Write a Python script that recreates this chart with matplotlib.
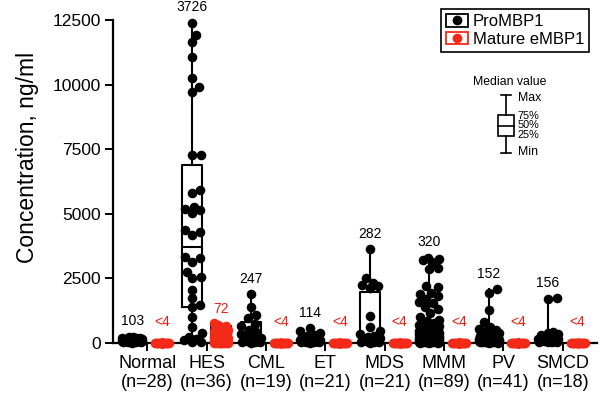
import numpy as np
import matplotlib
matplotlib.use("Agg")
import matplotlib.pyplot as plt
from matplotlib.patches import Patch, Rectangle
from matplotlib.lines import Line2D
from matplotlib.legend_handler import HandlerTuple

plt.rcParams['font.family'] = ['Liberation Sans', 'DejaVu Sans']

# groups
groups = ['Normal', 'HES', 'CML', 'ET', 'MDS', 'MMM', 'PV', 'SMCD']
n_counts = [28, 36, 19, 21, 21, 89, 41, 18]

# ProMBP1 individual values (ng/ml)
pro_normal = [250, 230, 210, 190, 175, 160, 150, 140, 130, 120, 115, 110, 105, 104,
              102, 100, 95, 90, 85, 80, 75, 70, 60, 50, 40, 30, 20, 10]
pro_hes = [12400, 11920, 11637, 11080, 10244, 9895, 9725, 7276, 7276, 5921, 5793,
           5276, 5200, 5147, 5018, 4373, 4300, 4180, 3340, 3278, 3146, 2760, 2566,
           2504, 2051, 1728, 1471, 1405, 1018, 631, 375, 250, 150, 100, 50, 20]
pro_cml = [1884, 1405, 1084, 955, 750, 650, 520, 420, 330, 247, 200, 160, 120, 90,
           70, 50, 30, 20, 10]
pro_et = [568, 450, 375, 300, 260, 230, 200, 180, 150, 130, 114, 100, 90, 80, 70,
          60, 50, 40, 30, 20, 10]
pro_mds = [3625, 2528, 2320, 2250, 2200, 2120, 1045, 600, 450, 350, 282, 220, 180,
           140, 110, 90, 70, 50, 30, 20, 5]
pro_mmm = [3300, 3260, 3200, 3150, 2900, 2850, 2200, 2150, 1950, 1900, 1800, 1700,
           1600, 1550, 1400, 1300, 1150, 1000, 900, 850, 780, 700,
           640, 620, 600, 580, 560, 540, 520, 500, 480, 460, 450, 440, 420, 410,
           400, 390, 380, 370, 360, 350, 340, 330, 320,
           310, 300, 290, 280, 270, 260, 250, 240, 230, 220, 210, 200, 190, 180,
           170, 160, 150, 145, 140, 135, 130, 125, 120, 110, 100, 95, 90, 85, 80,
           75, 70, 65, 60, 55, 50, 45, 40, 35, 30, 25, 20, 15, 10, 5]
pro_pv = [2078, 1923, 1277, 824, 600, 550, 500, 480, 450, 400, 380, 350, 320, 300,
          280, 250, 230, 210, 190, 170, 152, 140, 130, 120, 110, 100, 95, 90, 85,
          80, 70, 60, 55, 50, 45, 40, 35, 30, 20, 15, 10]
pro_smcd = [1740, 1720, 437, 400, 350, 300, 250, 200, 160, 152, 130, 110, 90, 70,
            50, 40, 30, 20]
pro_values = [pro_normal, pro_hes, pro_cml, pro_et, pro_mds, pro_mmm, pro_pv, pro_smcd]

# ProMBP1 box statistics
pro_min = [10, 0, 10, 10, 5, 0, 5, 20]
pro_q1 = [70, 1381, 60, 40, 50, 130, 55, 50]
pro_med = [103, 3726, 247, 114, 282, 320, 152, 156]
pro_q3 = [150, 6890, 800, 250, 1985, 630, 420, 300]
pro_max = [250, 12400, 1884, 568, 3625, 3300, 2078, 1740]
pro_labels = ['103', '3726', '247', '114', '282', '320', '152', '156']

# Mature eMBP1: only HES above detection limit, others "<4" (plotted at 0)
mat_hes = [760, 690, 640, 600, 560, 520, 480, 450, 420, 390, 350, 300, 250, 200,
           150, 110, 90, 75, 69, 60, 50, 45, 40, 35, 30, 25, 20, 15, 12, 10, 8, 6,
           5, 4, 3, 2]
below_lod = 0.0
mat_min = [0, 2, 0, 0, 0, 0, 0, 0]
mat_q1 = [0, 15, 0, 0, 0, 0, 0, 0]
mat_med = [0, 72, 0, 0, 0, 0, 0, 0]
mat_q3 = [0, 650, 0, 0, 0, 0, 0, 0]
mat_max = [0, 760, 0, 0, 0, 0, 0, 0]
mat_labels = ['<4', '72', '<4', '<4', '<4', '<4', '<4', '<4']
mat_values = [mat_hes if g == 'HES' else np.full(n, below_lod)
              for g, n in zip(groups, n_counts)]

BLACK = '#000000'
RED = '#f42a18'
RED_TXT = '#e61e12'

W, H = 600, 396
fig = plt.figure(figsize=(W / 100, H / 100), dpi=100)
ax = fig.add_axes([113 / W, 1 - 343 / H, 484 / W, 323 / H])
xlim = (-0.575, 7.575)
ylim = (0, 12500)
ax.set_xlim(*xlim)
ax.set_ylim(*ylim)

px_x = 484 / (xlim[1] - xlim[0])
px_y = 323 / (ylim[1] - ylim[0])
dot_px = 9.6
dot_s = (dot_px * 0.72) ** 2
off = 0.25
box_w = 0.336


def swarm(vals, max_px, diam):
    ys = np.asarray(vals, dtype=float) * px_y
    order = np.argsort(ys, kind='stable')
    cands = [0.0]
    for k in range(1, int(max_px) + 1):
        cands += [float(k), float(-k)]
    placed = []
    res = np.zeros(len(ys))
    for i in order:
        best, best_d = 0.0, -1.0
        for c in cands:
            if placed:
                p = np.array(placed)
                dmin = np.min(np.hypot(p[:, 0] - c, p[:, 1] - ys[i]))
            else:
                dmin = np.inf
            if dmin >= diam:
                best = c
                break
            if dmin > best_d:
                best_d, best = dmin, c
        res[i] = best
        placed.append((best, ys[i]))
    return res / px_x


def stats(mins, q1s, meds, q3s, maxs):
    return [dict(whislo=a, q1=b, med=c, q3=d, whishi=e, fliers=[])
            for a, b, c, d, e in zip(mins, q1s, meds, q3s, maxs)]


xs = np.arange(len(groups))
lw = 1.5
common = dict(widths=box_w, showfliers=False, showcaps=False, manage_ticks=False,
              boxprops=dict(color=BLACK, lw=lw), whiskerprops=dict(color=BLACK, lw=lw),
              medianprops=dict(color=BLACK, lw=lw), zorder=2)
ax.bxp(stats(pro_min, pro_q1, pro_med, pro_q3, pro_max), positions=xs - off, **common)
ax.bxp(stats(mat_min, mat_q1, mat_med, mat_q3, mat_max), positions=xs + off, **common)

for i in range(len(groups)):
    v = pro_values[i]
    ax.scatter(i - off + swarm(v, 10, dot_px * 0.85), v, s=dot_s, color=BLACK,
               linewidths=0, zorder=3, clip_on=False)
    m = mat_values[i]
    ax.scatter(i + off + swarm(m, 7, dot_px * 0.85), m, s=dot_s, color=RED,
               linewidths=0, zorder=3, clip_on=False)
    ax.annotate(pro_labels[i], (i - off, pro_max[i]), xytext=(0, 11),
                textcoords='offset points', ha='center', va='center',
                fontsize=10, color=BLACK)
    ax.annotate(mat_labels[i], (i + off, mat_max[i]),
                xytext=(0, 15 if mat_labels[i] == '<4' else 10),
                textcoords='offset points', ha='center', va='center',
                fontsize=10, color=RED_TXT)

for s in ['top', 'right']:
    ax.spines[s].set_visible(False)
for s in ['left', 'bottom']:
    ax.spines[s].set_linewidth(1.6)
ax.set_yticks([0, 2500, 5000, 7500, 10000, 12500])
ax.set_xticks(xs)
ax.set_xticklabels([f'{g}\n(n={n})' for g, n in zip(groups, n_counts)],
                   linespacing=1.1)
ax.tick_params(axis='y', direction='out', length=5.5, width=1.4, pad=3.5,
               labelsize=12.5)
ax.tick_params(axis='x', direction='out', length=5.5, width=1.4, pad=3.5,
               labelsize=13)
ax.set_ylabel('Concentration, ng/ml', fontsize=16.5)
ax.yaxis.set_label_coords(-0.152, 0.574)

# legend
h_pro = (Patch(facecolor='white', edgecolor=BLACK, lw=1.3),
         Line2D([], [], marker='o', ls='', color=BLACK, markersize=6))
h_mat = (Patch(facecolor='white', edgecolor=RED, lw=1.3),
         Line2D([], [], marker='o', ls='', color=RED, markersize=6))
leg = ax.legend([h_pro, h_mat], ['ProMBP1', 'Mature eMBP1'],
                handler_map={tuple: HandlerTuple(ndivide=1)},
                loc='upper right', bbox_to_anchor=(589 / W, 1 - 9 / H),
                bbox_transform=fig.transFigure, borderaxespad=0,
                fontsize=12, frameon=True, fancybox=False, framealpha=1,
                edgecolor=BLACK, handlelength=1.3, handleheight=0.8,
                handletextpad=0.3, labelspacing=0.15, borderpad=0.3)
leg.get_frame().set_linewidth(1.2)


# median value key (figure pixel coordinates)
def fp(x, y):
    return x / W, 1 - y / H


kx = 506
key_lines = [((kx, 95), (kx, 115)), ((kx, 136), (kx, 153)),
             ((501, 95), (511, 95)), ((501, 153), (511, 153)),
             ((498, 126), (514, 126))]
for (x0, y0), (x1, y1) in key_lines:
    a, b = fp(x0, y0), fp(x1, y1)
    fig.add_artist(Line2D([a[0], b[0]], [a[1], b[1]], color=BLACK, lw=1.2))
fig.add_artist(Rectangle(fp(498, 136), 16 / W, 21 / H, facecolor='none',
                         edgecolor=BLACK, lw=1.2, transform=fig.transFigure))
fig.text(*fp(510, 82), 'Median value', ha='center', va='center', fontsize=8.8)
for txt, y in [('Max', 98), ('Min', 152)]:
    fig.text(*fp(518, y), txt, ha='left', va='center', fontsize=8.8)
for txt, y in [('75%', 115.5), ('50%', 125.5), ('25%', 135.5)]:
    fig.text(*fp(518, y), txt, ha='left', va='center', fontsize=7.8)

fig.savefig('out.png', dpi=100)
